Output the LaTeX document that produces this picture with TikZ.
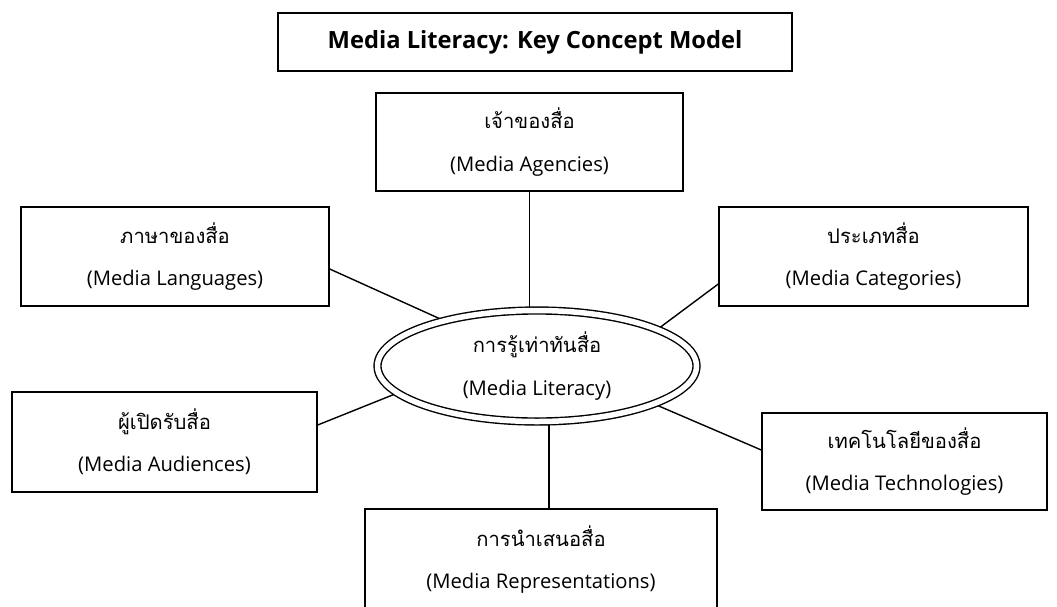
\documentclass[tikz,border=0pt]{standalone}
\usepackage{fontspec}
\setmainfont{Open Sans}
\newfontfamily\thaifont[Script=Thai]{Loma}
\usetikzlibrary{shapes.geometric,backgrounds}
\begin{document}
\begin{tikzpicture}[
    box/.style={draw,line width=0.8pt,align=center,inner sep=0pt,font=\fontsize{11.5}{24}\selectfont},
    link/.style={line width=0.8pt}]
    \useasboundingbox (0,0) rectangle (21.14,-12.12);
    \node[box,minimum width=10.28cm,minimum height=1.16cm,font=\fontsize{13.5}{16}\selectfont\bfseries] (title) at (10.70,-0.84) {Media Literacy: Key Concept Model};
    \node[box,minimum width=6.14cm,minimum height=1.96cm] (agency) at (10.59,-2.84) {{\thaifont เจ้าของสื่อ}\\(Media Agencies)};
    \node[box,minimum width=6.16cm,minimum height=1.98cm] (lang) at (3.50,-5.13) {{\thaifont ภาษาของสื่อ}\\(Media Languages)};
    \node[box,minimum width=6.18cm,minimum height=1.98cm] (cat) at (17.47,-5.13) {{\thaifont ประเภทสื่อ}\\(Media Categories)};
    \node[box,minimum width=6.10cm,minimum height=2.00cm] (aud) at (3.29,-8.84) {{\thaifont ผู้เปิดรับสื่อ}\\(Media Audiences)};
    \node[box,minimum width=5.70cm,minimum height=1.94cm] (tech) at (18.09,-9.23) {{\thaifont เทคโนโลยีของสื่อ}\\(Media Technologies)};
    \node[box,minimum width=7.04cm,minimum height=2.02cm] (rep) at (10.82,-11.19) {{\thaifont การนำเสนอสื่อ}\\(Media Representations)};
    \node[draw,ellipse,double,double distance=0.11cm,line width=0.8pt,fill=white,minimum width=6.38cm,minimum height=2.22cm,inner sep=0pt,align=center,font=\fontsize{11.5}{24}\selectfont] (lit) at (10.74,-7.32) {{\thaifont การรู้เท่าทันสื่อ}\\(Media Literacy)};
    \begin{scope}[on background layer]
        \draw[link] (agency.south) -- (agency.south |- lit.north);
        \draw[link] ([yshift=-0.25cm]lang.east) -- (lit.154);
        \draw[link] ([yshift=-0.55cm]cat.west) -- (lit.17);
        \draw[link] ([yshift=0.34cm]aud.east) -- (lit.191);
        \draw[link] ([yshift=0.23cm]tech.west) -- (lit.342);
        \draw[link] ([xshift=0.16cm]rep.north) -- ([xshift=0.16cm]rep.north |- lit.south);
    \end{scope}
\end{tikzpicture}
\end{document}
